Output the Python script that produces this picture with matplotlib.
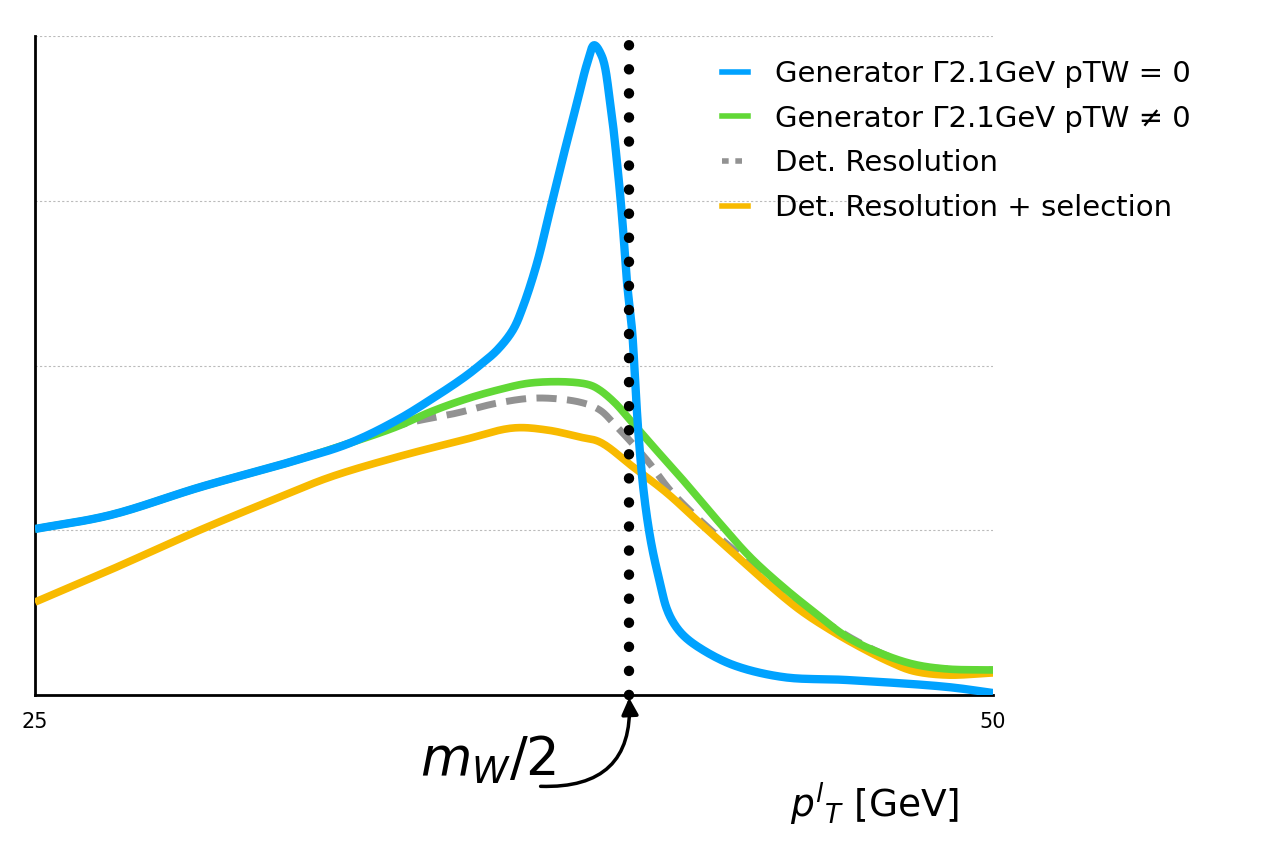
import numpy as np
import matplotlib
matplotlib.use('Agg')
import matplotlib.pyplot as plt
from matplotlib.lines import Line2D

# x = lepton pT [GeV], y = arbitrary units (gridlines at 1, 2, 3, 4)
blue_x = [25.0, 26.96, 29.31, 31.65, 33.22, 34.45, 35.31, 36.17, 36.61, 37.06, 37.47, 37.73,
          38.10, 38.44, 38.78, 39.14, 39.41, 39.59, 39.80, 40.01, 40.19, 40.32, 40.45, 40.58,
          40.66, 40.74, 40.87, 41.00, 41.13, 41.31, 41.47, 41.65, 41.91, 42.35, 43.22, 44.52,
          46.19, 48.80, 50.0]
blue_y = [1.008, 1.092, 1.262, 1.414, 1.53, 1.669, 1.791, 1.924, 2.003, 2.094, 2.216, 2.355,
          2.622, 2.944, 3.266, 3.593, 3.836, 3.945, 3.873, 3.593, 3.229, 2.901, 2.501, 2.215,
          1.912, 1.608, 1.263, 1.032, 0.862, 0.680, 0.534, 0.443, 0.364, 0.285, 0.182, 0.109,
          0.091, 0.049, 0.012]

green_x = [25.0, 26.96, 29.31, 31.65, 33.22, 34.45, 35.31, 36.17, 37.06, 37.92, 38.96, 39.48,
           39.74, 40.14, 40.53, 41.05, 41.91, 42.80, 43.66, 44.52, 45.36, 46.19, 47.05, 47.91,
           48.80, 50.0]
green_y = [1.008, 1.092, 1.262, 1.414, 1.53, 1.63, 1.718, 1.791, 1.851, 1.894, 1.900, 1.882,
           1.851, 1.772, 1.669, 1.530, 1.305, 1.062, 0.838, 0.656, 0.498, 0.352, 0.255, 0.188,
           0.158, 0.152]

gray_x = [25.0, 26.96, 29.31, 31.65, 33.22, 34.52, 36.01, 37.06, 38.10, 39.22, 39.74, 40.14,
          40.97, 41.57, 42.35, 43.27, 44.10, 44.96, 45.75, 46.53, 47.31, 47.91, 48.80, 50.0]
gray_y = [1.008, 1.092, 1.262, 1.414, 1.53, 1.639, 1.712, 1.772, 1.803, 1.778, 1.730, 1.639,
          1.426, 1.244, 1.062, 0.874, 0.722, 0.564, 0.425, 0.316, 0.231, 0.182, 0.158, 0.152]

orange_x = [25.0, 26.96, 29.31, 31.39, 32.70, 34.45, 36.17, 37.47, 38.36, 39.22, 39.74, 40.61,
            41.49, 42.35, 43.22, 44.10, 44.96, 45.75, 46.53, 47.31, 47.91, 48.80, 50.0]
orange_y = [0.564, 0.759, 1.002, 1.202, 1.323, 1.445, 1.548, 1.621, 1.609, 1.566, 1.536, 1.384,
            1.226, 1.044, 0.862, 0.680, 0.516, 0.395, 0.291, 0.200, 0.146, 0.121, 0.134]

labels = ['Generator Γ2.1GeV pTW = 0', 'Generator Γ2.1GeV pTW ≠ 0',
          'Det. Resolution', 'Det. Resolution + selection']
mw_half = 40.5


def smooth(x, y, sx=38.3, sy=164.8, n=16):
    # centripetal Catmull-Rom through the read points (distances in ~pixel units)
    P = np.column_stack([np.asarray(x, float) * sx, np.asarray(y, float) * sy])
    P = np.vstack([2 * P[0] - P[1], P, 2 * P[-1] - P[-2]])
    out = []
    for i in range(1, len(P) - 2):
        p0, p1, p2, p3 = P[i - 1], P[i], P[i + 1], P[i + 2]
        t0 = 0.0
        t1 = t0 + np.linalg.norm(p1 - p0) ** 0.5
        t2 = t1 + np.linalg.norm(p2 - p1) ** 0.5
        t3 = t2 + np.linalg.norm(p3 - p2) ** 0.5
        t = np.linspace(t1, t2, n, endpoint=False)[:, None]
        a1 = (t1 - t) / (t1 - t0) * p0 + (t - t0) / (t1 - t0) * p1
        a2 = (t2 - t) / (t2 - t1) * p1 + (t - t1) / (t2 - t1) * p2
        a3 = (t3 - t) / (t3 - t2) * p2 + (t - t2) / (t3 - t2) * p3
        b1 = (t2 - t) / (t2 - t0) * a1 + (t - t0) / (t2 - t0) * a2
        b2 = (t3 - t) / (t3 - t1) * a2 + (t - t1) / (t3 - t1) * a3
        out.append((t2 - t) / (t2 - t1) * b1 + (t - t1) / (t2 - t1) * b2)
    out.append(P[-2][None, :])
    out = np.vstack(out)
    return out[:, 0] / sx, out[:, 1] / sy


fig = plt.figure(figsize=(12.72, 8.41), dpi=100)
ax = fig.add_axes([0.0275, 0.1736, 0.7532, 0.7834])

for yg in [1, 2, 3, 4]:
    ax.axhline(yg, color='#bbbbbb', linestyle=(0, (2, 2)), linewidth=0.8, zorder=0)

ax.plot(*smooth(gray_x, gray_y), color='#929292', linewidth=5, linestyle=(0, (2.9, 1.5)), zorder=2)
ax.plot(*smooth(orange_x, orange_y), color='#F8BA00', linewidth=5.5, zorder=3,
        solid_capstyle='butt')
ax.plot(*smooth(green_x, green_y), color='#61D836', linewidth=5.5, zorder=4,
        solid_capstyle='butt')
ax.plot(*smooth(blue_x, blue_y), color='#00A2FF', linewidth=6, zorder=5,
        solid_capstyle='butt')

# dotted m_W/2 marker, runs a bit above the axes
ax.plot([mw_half, mw_half], [0, 4.08], color='black', linewidth=7.5,
        linestyle=(0, (0.01, 2.3)), dash_capstyle='round', clip_on=False, zorder=6)

ax.set_xlim(25, 50)
ax.set_ylim(0, 4)
ax.set_xticks([25, 50])
ax.set_xticklabels(['25', '50'], fontsize=15)
ax.set_yticks([])
ax.tick_params(axis='x', length=0, pad=12)
ax.spines['top'].set_visible(False)
ax.spines['right'].set_visible(False)
ax.spines['left'].set_linewidth(2)
ax.spines['bottom'].set_linewidth(2)

handles = [Line2D([], [], color='#00A2FF', linewidth=4),
           Line2D([], [], color='#61D836', linewidth=4),
           Line2D([], [], color='#929292', linewidth=4, linestyle=(0, (1.2, 1.2))),
           Line2D([], [], color='#F8BA00', linewidth=4)]
fig.legend(handles, labels, loc='upper left', bbox_to_anchor=(0.547, 0.96),
           frameon=False, fontsize=21, handlelength=0.9, handletextpad=0.9,
           labelspacing=0.57)

fig.text(0.33, 0.096, r'$m_W/2$', fontsize=38, ha='left', va='center')
ax.annotate('', xy=(mw_half, 0), xycoords='data',
            xytext=(0.425, 0.065), textcoords='figure fraction',
            arrowprops=dict(arrowstyle='-|>,head_length=1.0,head_width=0.5', color='black',
                            linewidth=2.5, connectionstyle='arc3,rad=0.55',
                            shrinkA=0, shrinkB=2))

fig.text(0.621, 0.043, r'$p^l{}_T$ [GeV]', fontsize=27, ha='left', va='center')

fig.savefig('out.png', dpi=100)
